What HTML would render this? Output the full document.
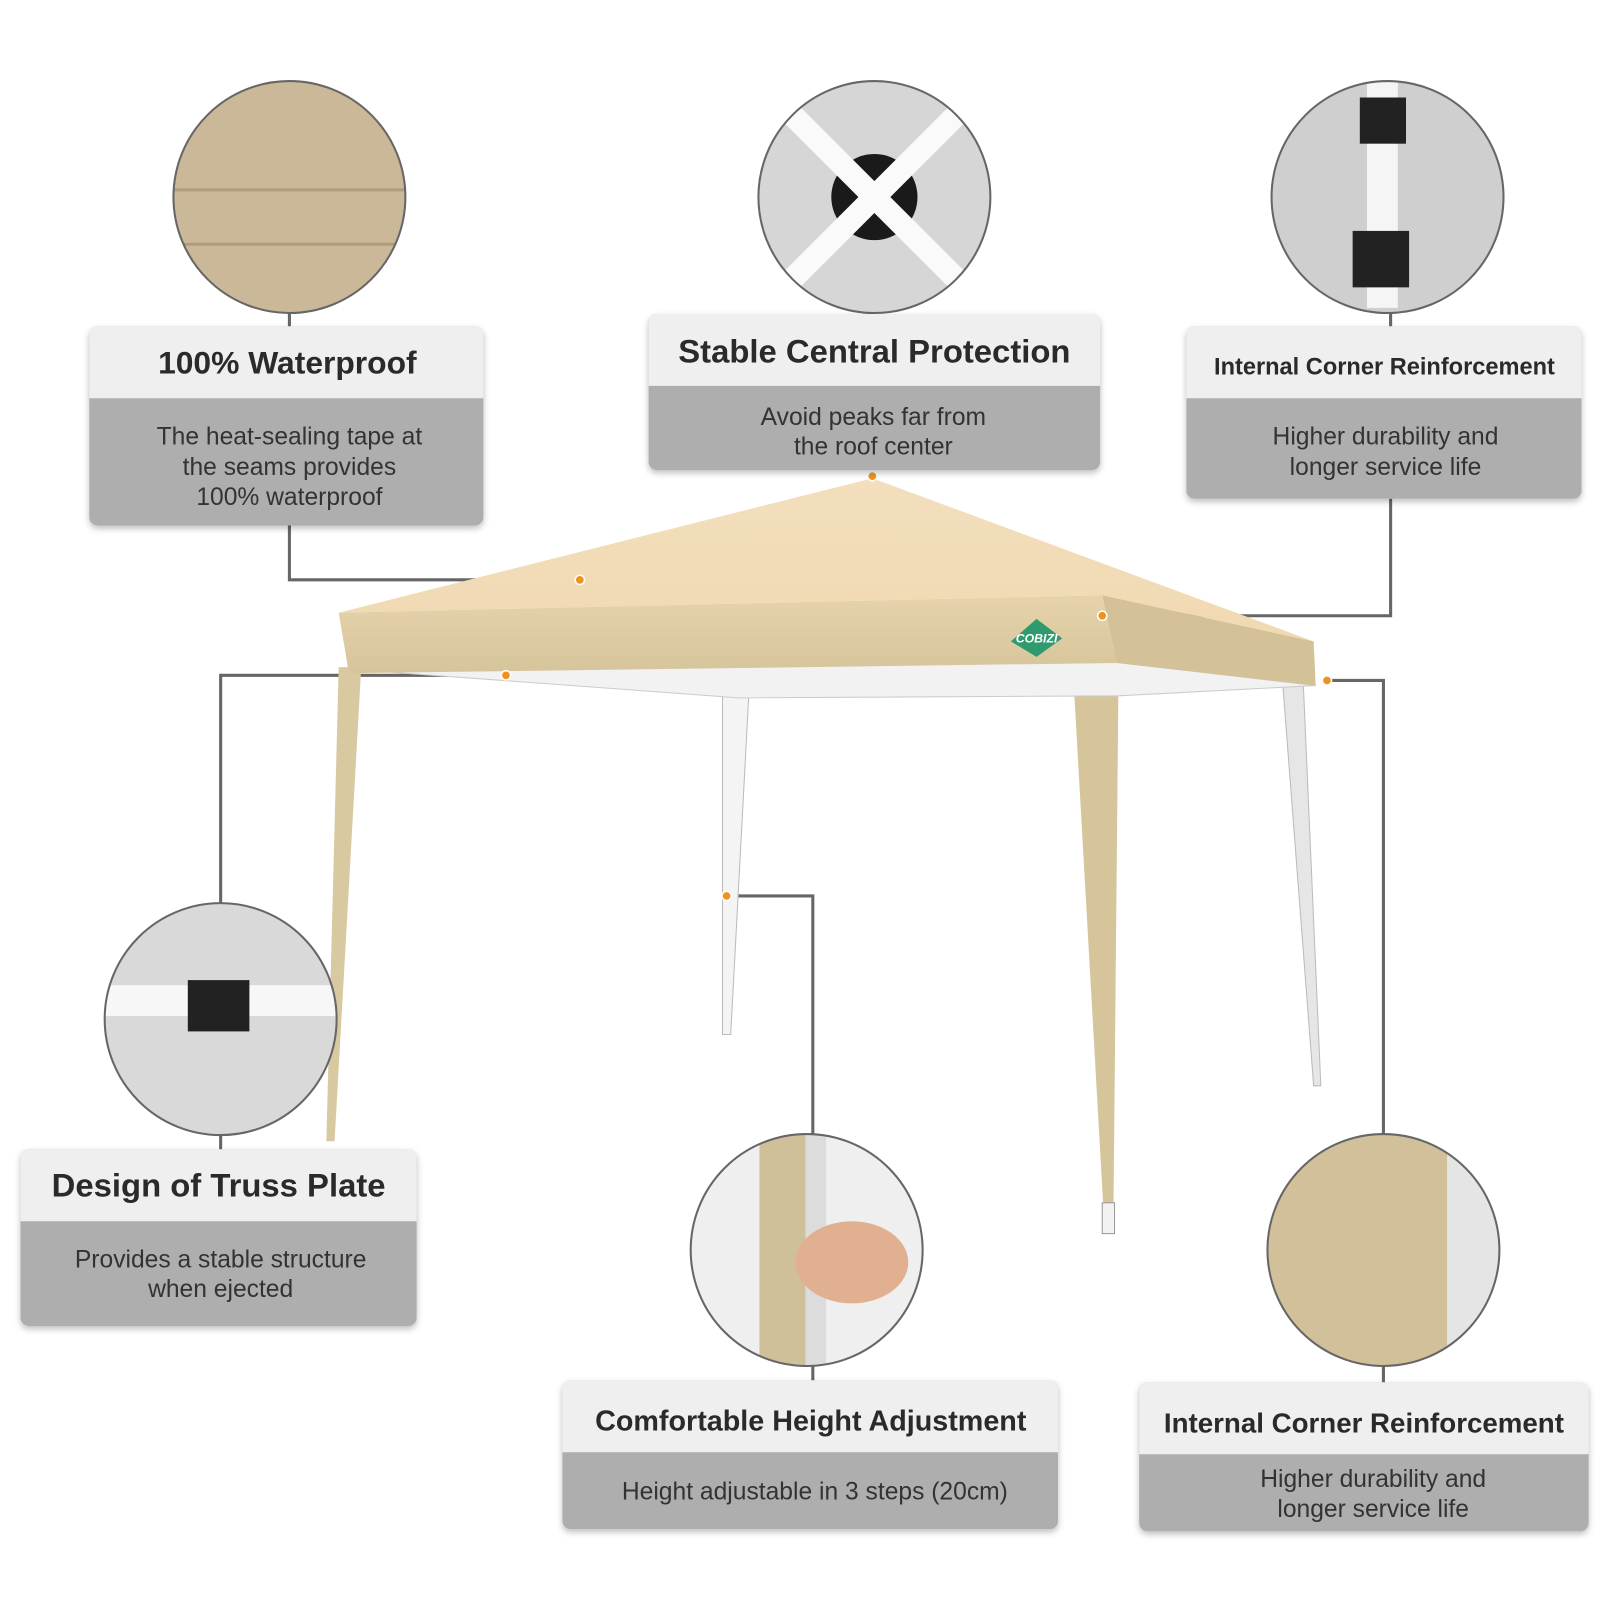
<!DOCTYPE html>
<html><head><meta charset="utf-8"><style>html,body{margin:0;padding:0;background:#fff}svg{display:block}</style></head>
<body>
<svg width="1601" height="1601" viewBox="0 0 1560 1560" xmlns="http://www.w3.org/2000/svg" font-family="Liberation Sans, sans-serif">
<defs>
<filter id="sh" x="-5%" y="-5%" width="110%" height="115%"><feDropShadow dx="0" dy="3" stdDeviation="3" flood-color="#000" flood-opacity="0.25"/></filter>
<linearGradient id="roof" x1="0" y1="0" x2="0" y2="1"><stop offset="0" stop-color="#f3dfbd"/><stop offset="1" stop-color="#f0d9b2"/></linearGradient>
<linearGradient id="front" x1="0" y1="0" x2="0" y2="1"><stop offset="0" stop-color="#e6d3ab"/><stop offset="1" stop-color="#d6c49b"/></linearGradient>
<clipPath id="c1"><circle cx="282" cy="192" r="113"/></clipPath>
<clipPath id="c2"><circle cx="852" cy="192" r="113"/></clipPath>
<clipPath id="c3"><circle cx="1352" cy="192" r="113"/></clipPath>
<clipPath id="c4"><circle cx="215" cy="993" r="113"/></clipPath>
<clipPath id="c5"><circle cx="786" cy="1218" r="113"/></clipPath>
<clipPath id="c6"><circle cx="1348" cy="1218" r="113"/></clipPath>
</defs>
<!-- connectors -->
<g stroke="#666" stroke-width="3" fill="none">
<path d="M282 305V318M282 512V565H565"/>
<path d="M1355 305V318M1355 486V600H1074"/>
<path d="M215 880V658H493M215 1106V1120"/>
<path d="M792 1105V873H708M792 1331V1345"/>
<path d="M1348 1105V663H1293M1348 1331V1347"/>
</g>
<!-- tent legs -->
<polygon points="330,650 352,650 326,1112 318,1112" fill="#d8c9a0"/>
<polygon points="704,670 730,670 712,1008 704,1008" fill="#f4f4f4" stroke="#bbb"/>
<polygon points="1250,668 1270,668 1287,1058 1280,1058" fill="#e6e6e6" stroke="#bbb"/>
<polygon points="1045,645 1090,645 1085,1175 1075,1175" fill="#d6c59b"/>
<rect x="1074" y="1172" width="12" height="30" fill="#f2f2f2" stroke="#999"/>
<!-- underside -->
<polygon points="340,652 1085,645 1282,668 1090,678 720,680" fill="#f2f2f2" stroke="#ccc"/>
<!-- roof -->
<polygon points="330,597 850,466 1280,625 1074,580" fill="url(#roof)"/>
<polygon points="330,597 1074,580 1088,646 340,656" fill="url(#front)"/>
<polygon points="1074,580 1280,625 1282,668 1088,646" fill="#d4c197"/>
<polygon points="985,625 1010,603 1035,622 1010,640" fill="#2e9a6e"/>
<text x="1010" y="626" font-size="12" font-style="italic" font-weight="bold" fill="#fff" text-anchor="middle">COBIZI</text>
<!-- dots -->
<g fill="#f0921f" stroke="#fff" stroke-width="1.5">
<circle cx="565" cy="565" r="4.5"/><circle cx="850" cy="464" r="4.5"/><circle cx="1074" cy="600" r="4.5"/>
<circle cx="493" cy="658" r="4.5"/><circle cx="708" cy="873" r="4.5"/><circle cx="1293" cy="663" r="4.5"/>
</g>
<!-- circles -->
<g clip-path="url(#c1)">
<rect x="160" y="70" width="250" height="250" fill="#cbb898"/>
<path d="M160 185H400M160 238H400" stroke="#b09c7c" stroke-width="3"/>
</g>
<circle cx="282" cy="192" r="113" fill="none" stroke="#666" stroke-width="2"/>
<g clip-path="url(#c2)">
<rect x="730" y="70" width="250" height="250" fill="#d6d6d6"/>
<circle cx="852" cy="192" r="42" fill="#1a1a1a"/>
<path d="M770 110L934 274M934 110L770 274" stroke="#fafafa" stroke-width="22"/>
</g>
<circle cx="852" cy="192" r="113" fill="none" stroke="#666" stroke-width="2"/>
<g clip-path="url(#c3)">
<rect x="1230" y="70" width="250" height="250" fill="#cfcfcf"/>
<rect x="1332" y="80" width="30" height="220" fill="#f5f5f5"/>
<rect x="1318" y="225" width="55" height="55" fill="#222"/>
<rect x="1325" y="95" width="45" height="45" fill="#222"/>
</g>
<circle cx="1352" cy="192" r="113" fill="none" stroke="#666" stroke-width="2"/>
<g clip-path="url(#c4)">
<rect x="100" y="880" width="240" height="240" fill="#d9d9d9"/>
<rect x="100" y="960" width="240" height="30" fill="#f7f7f7"/>
<rect x="183" y="955" width="60" height="50" fill="#222"/>
</g>
<circle cx="215" cy="993" r="113" fill="none" stroke="#666" stroke-width="2"/>
<g clip-path="url(#c5)">
<rect x="670" y="1100" width="240" height="240" fill="#efefef"/>
<rect x="740" y="1100" width="45" height="240" fill="#cfc09a"/>
<rect x="785" y="1100" width="20" height="240" fill="#dcdcdc"/>
<ellipse cx="830" cy="1230" rx="55" ry="40" fill="#e0b090"/>
</g>
<circle cx="786" cy="1218" r="113" fill="none" stroke="#666" stroke-width="2"/>
<g clip-path="url(#c6)">
<rect x="1230" y="1100" width="240" height="240" fill="#d1c09a"/>
<rect x="1410" y="1100" width="60" height="240" fill="#e5e5e5"/>
</g>
<circle cx="1348" cy="1218" r="113" fill="none" stroke="#666" stroke-width="2"/>
<!-- boxes -->
<g filter="url(#sh)">
<rect x="87" y="318" width="384" height="194" rx="8" fill="#aeaeae"/>
<path d="M95 318H463A8 8 0 0 1 471 326V388H87V326A8 8 0 0 1 95 318Z" fill="#efefef"/>
<rect x="632" y="306" width="440" height="152" rx="8" fill="#aeaeae"/>
<path d="M640 306H1064A8 8 0 0 1 1072 314V376H632V314A8 8 0 0 1 640 306Z" fill="#efefef"/>
<rect x="1156" y="318" width="385" height="168" rx="8" fill="#aeaeae"/>
<path d="M1164 318H1533A8 8 0 0 1 1541 326V388H1156V326A8 8 0 0 1 1164 318Z" fill="#efefef"/>
<rect x="20" y="1120" width="386" height="172" rx="8" fill="#aeaeae"/>
<path d="M28 1120H398A8 8 0 0 1 406 1128V1190H20V1128A8 8 0 0 1 28 1120Z" fill="#efefef"/>
<rect x="548" y="1345" width="483" height="145" rx="8" fill="#aeaeae"/>
<path d="M556 1345H1023A8 8 0 0 1 1031 1353V1415H548V1353A8 8 0 0 1 556 1345Z" fill="#efefef"/>
<rect x="1110" y="1347" width="438" height="145" rx="8" fill="#aeaeae"/>
<path d="M1118 1347H1540A8 8 0 0 1 1548 1355V1417H1110V1355A8 8 0 0 1 1118 1347Z" fill="#efefef"/>
</g>
<g text-anchor="middle" fill="#2a2a2a" font-weight="bold">
<text x="280" y="364" font-size="31">100% Waterproof</text>
<text x="852" y="353" font-size="32">Stable Central Protection</text>
<text x="1349" y="365" font-size="23">Internal Corner Reinforcement</text>
<text x="213" y="1166" font-size="32">Design of Truss Plate</text>
<text x="790" y="1394" font-size="28">Comfortable Height Adjustment</text>
<text x="1329" y="1396" font-size="27">Internal Corner Reinforcement</text>
</g>
<g text-anchor="middle" fill="#333" font-size="24">
<text x="282" y="433">The heat-sealing tape at</text>
<text x="282" y="463">the seams provides</text>
<text x="282" y="492">100% waterproof</text>
<text x="851" y="414">Avoid peaks far from</text>
<text x="851" y="443">the roof center</text>
<text x="1350" y="433">Higher durability and</text>
<text x="1350" y="463">longer service life</text>
<text x="215" y="1235">Provides a stable structure</text>
<text x="215" y="1264">when ejected</text>
<text x="794" y="1461">Height adjustable in 3 steps (20cm)</text>
<text x="1338" y="1449">Higher durability and</text>
<text x="1338" y="1478">longer service life</text>
</g>
</svg>
</body></html>
